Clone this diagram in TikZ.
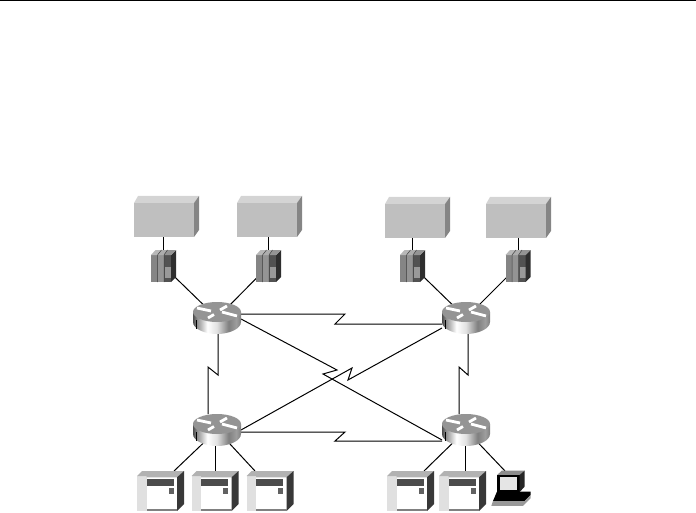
\documentclass[tikz,border=0pt]{standalone}
\usepackage{tikz,pgf}
\usetikzlibrary{backgrounds}

\pgfdeclarehorizontalshading{rtrshade}{100bp}{
  color(0bp)=(black!70); color(25bp)=(black!70); color(29bp)=(black!45);
  color(40bp)=(white); color(50bp)=(black!12); color(62bp)=(black!50);
  color(70bp)=(black!38); color(75bp)=(black!50); color(100bp)=(black!50)}

\tikzset{
  link/.style={black,line width=1pt,line join=miter},
  hitbox/.style={inner sep=0pt,outer sep=0pt},
  rtrnode/.style={hitbox,minimum width=48pt,minimum height=32pt},
  boxnode/.style={hitbox,minimum width=60pt,minimum height=34pt},
  stacknode/.style={hitbox,minimum width=25pt,minimum height=32pt},
  srvnode/.style={hitbox,minimum width=47pt,minimum height=40pt},
  pcnode/.style={hitbox,minimum width=38pt,minimum height=35pt},
  router/.pic={
    \shade[shading=rtrshade] (-24,-6) -- (-24,4) .. controls (-24,11) and (-12,16) .. (0,16)
      .. controls (12,16) and (24,11) .. (24,4) -- (24,-6) -- cycle;
    \fill[black!42] (0,-6) ellipse [x radius=24,y radius=10];
    \fill[black] (-21.2,2) rectangle (-19.8,11);
    \draw[white,line width=2.8pt] (-20,-10) -- (-6,-7);
    \draw[white,line width=2.8pt] (3,-8) -- (10,-12);
    \draw[white,line width=2.8pt] (-9,0) -- (-3,-3.5);
    \draw[white,line width=2.8pt] (5,-6) -- (20,-2);
  },
  bigbox/.pic={
    \fill[black!25] (-30,-17) rectangle (30,17);
    \fill[black!17] (-30,-17) -- (-26,-24) -- (35,-24) -- (30,-17) -- cycle;
    \fill[black!48] (30,-17) -- (35,-24) -- (35,10) -- (30,17) -- cycle;
  },
  stack/.pic={
    \fill[black!48] (-12.5,-11) rectangle (-6,16);
    \fill[black!42] (-6,-11) rectangle (0.5,16);
    \fill[black!68] (0.5,-11) rectangle (7.5,16);
    \fill[black!40] (1.5,1) rectangle (7.5,12);
    \fill[black!82] (7.5,-11) -- (12.5,-16) -- (12.5,11) -- (7.5,16) -- cycle;
    \fill[black!28] (-12.5,-11) -- (-8,-16) -- (-2,-16) -- (-6,-11) -- cycle;
    \fill[black!32] (-6,-11) -- (-2,-16) -- (4,-16) -- (0.5,-11) -- cycle;
    \fill[black!42] (0.5,-11) -- (4,-16) -- (12.5,-16) -- (7.5,-11) -- cycle;
    \draw[black!75,line width=0.5pt] (-6,16) -- (-6,-11) -- (-2,-16);
    \draw[black!75,line width=0.5pt] (0.5,16) -- (0.5,-11) -- (4,-16);
  },
  server/.pic={
    \fill[white] (-14,-13.7) rectangle (16.5,20);
    \fill[black!12] (-23.5,-15) rectangle (-14,20);
    \fill[black!30] (-23.5,-15) -- (-18.5,-20) -- (23.5,-20) -- (16.5,-13.7) -- (-14,-13.7) -- (-14,-15) -- cycle;
    \fill[black!78] (16.5,-13.7) -- (23.5,-20) -- (23.5,13) -- (16.5,20) -- cycle;
    \fill[black!70] (-14,-11.7) rectangle (13,-5);
    \fill[black!62] (8,-2.7) rectangle (13,3);
    \fill[black!50] (-14,18) rectangle (16.5,20);
  },
  pcicon/.pic={
    \fill[black] (-14.7,-13.7) rectangle (7.7,3.5);
    \fill[black!45] (-14.7,-13.7) -- (-10,-18) -- (12.7,-18) -- (7.7,-13.7) -- cycle;
    \fill[black!85] (7.7,-13.7) -- (12.7,-18) -- (12.7,-2) -- (7.7,3.5) -- cycle;
    \fill[black!10] (-12.3,-11.5) rectangle (5.3,1);
    \fill[black] (-19,12.5) -- (-15,3) -- (18.7,3) -- (18.7,6.3) -- (12.7,12.5) -- cycle;
    \fill[black!40] (-20.7,17.3) -- (-19,12.5) -- (12.7,12.5) -- (18.7,6.3) -- (18.7,9.7) -- (11,17.3) -- cycle;
  }
}

\begin{document}
\begin{tikzpicture}[x=1pt,y=-1pt]
        \useasboundingbox (0,0) rectangle (696,513);
        \draw[black,line width=1.4pt] (0,0.7) -- (696,0.7);

        \path (164,220) pic {bigbox} node[boxnode] (boxA) {};
        \path (267,220) pic {bigbox} node[boxnode] (boxB) {};
        \path (415,221) pic {bigbox} node[boxnode] (boxC) {};
        \path (516,221) pic {bigbox} node[boxnode] (boxD) {};

        \path (163.5,266) pic {stack} node[stacknode] (stackA) {};
        \path (268.5,266) pic {stack} node[stacknode] (stackB) {};
        \path (412.5,266) pic {stack} node[stacknode] (stackC) {};
        \path (518,266) pic {stack} node[stacknode] (stackD) {};

        \path (217,318) pic {router} node[rtrnode] (rtrA) {};
        \path (466,318) pic {router} node[rtrnode] (rtrB) {};
        \path (217,430) pic {router} node[rtrnode] (rtrC) {};
        \path (466,430) pic {router} node[rtrnode] (rtrD) {};

        \path (160.5,491) pic {server} node[srvnode] (srvA) {};
        \path (215,491) pic {server} node[srvnode] (srvB) {};
        \path (270,491) pic {server} node[srvnode] (srvC) {};
        \path (410.5,491) pic {server} node[srvnode] (srvD) {};
        \path (462.5,491) pic {server} node[srvnode] (srvE) {};
        \path (512,488.5) pic {pcicon} node[pcnode] (pcA) {};

        \begin{scope}[on background layer]
        \draw[link] (stackA.north) -- (stackA.north |- boxA.south);
        \draw[link] (stackB.north) -- (stackB.north |- boxB.south);
        \draw[link] (stackC.north) -- (stackC.north |- boxC.south);
        \draw[link] (stackD.north) -- (stackD.north |- boxD.south);
        \draw[link] (stackA.center) -- (rtrA.center);
        \draw[link] (stackB.center) -- (rtrA.center);
        \draw[link] (stackC.center) -- (rtrB.center);
        \draw[link] (stackD.center) -- (rtrB.center);

        % serial links with a kink
        \draw[link] ([yshift=4pt]rtrA.east) -- (345,314) -- (335,324) -- ([yshift=-6pt]rtrB.west);
        \draw[link] ([yshift=-2pt]rtrC.east) -- (345,432) -- (335,441) -- ([yshift=-11pt]rtrD.west);
        \draw[link] ([xshift=1pt]rtrA.south) -- (218,375) -- (208,367) -- ([xshift=-9pt]rtrC.north);
        \draw[link] ([xshift=2pt]rtrB.south) -- (468,375) -- (459,367) -- ([xshift=-7pt]rtrD.north);
        \draw[link] ([yshift=-1pt]rtrA.east) -- (337,370) -- (323,374) -- ([yshift=-10pt]rtrD.west);
        \draw[link] (rtrC.east) -- (352,368) -- (348,380) -- ([yshift=-10pt]rtrB.west);

        \draw[link] (rtrC.center) -- ([xshift=13.5pt]srvA.north);
        \draw[link] (srvB.north) -- (srvB.north |- rtrC.center);
        \draw[link] (rtrC.center) -- ([xshift=-15pt]srvC.north);
        \draw[link] (rtrD.center) -- ([xshift=13.5pt]srvD.north);
        \draw[link] ([xshift=2.5pt]srvE.north) -- ([xshift=2.5pt]srvE.north |- rtrD.center);
        \draw[link] (rtrD.center) -- ([xshift=-7pt]pcA.north);
        \end{scope}
\end{tikzpicture}
\end{document}
